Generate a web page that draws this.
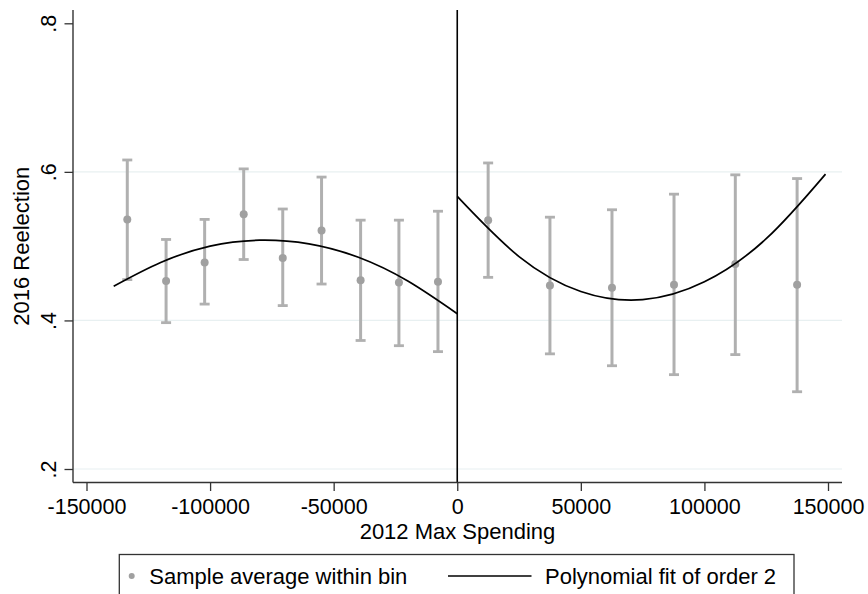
<!DOCTYPE html>
<html>
<head>
<meta charset="utf-8">
<script src="https://cdn.jsdelivr.net/npm/d3@7"></script>
<style>
  body { margin: 0; background: #fff; }
  text { font-family: "Liberation Sans", Arial, sans-serif; }
</style>
</head>
<body>
<div id="chart"></div>
<script>
const width = 868;
const height = 594;

//-------data-------//
const binX = [-133500, -117800, -102200, -86400, -70600, -54900, -39100, -23600, -7800,
  12500, 37500, 62600, 87700, 112500, 137500];
const binMean = [0.536, 0.453, 0.478, 0.543, 0.484, 0.521, 0.454, 0.451, 0.452,
  0.535, 0.447, 0.444, 0.448, 0.476, 0.448];
const binLow = [0.455, 0.397, 0.422, 0.482, 0.420, 0.449, 0.373, 0.366, 0.358,
  0.458, 0.355, 0.339, 0.327, 0.354, 0.304];
const binHigh = [0.616, 0.509, 0.536, 0.604, 0.550, 0.593, 0.535, 0.535, 0.547,
  0.612, 0.539, 0.549, 0.570, 0.596, 0.591];

const fitLeftX = [-139000, -120000, -100000, -80000, -60000, -40000, -20000, 0];
const fitLeftY = [0.446, 0.478, 0.500, 0.508, 0.503, 0.485, 0.453, 0.409];
const fitRightX = [0, 25000, 50000, 75000, 100000, 125000, 149000];
const fitRightY = [0.567, 0.486, 0.439, 0.428, 0.452, 0.510, 0.597];

const xTicks = [-150000, -100000, -50000, 0, 50000, 100000, 150000];
const yTicks = [0.2, 0.4, 0.6, 0.8];
const yGrid = [0.2, 0.4, 0.6];

const legendLabels = ["Sample average within bin", "Polynomial fit of order 2"];

//-------set up svg-------//
const svg = d3
  .select("#chart")
  .append("svg")
  .attr("width", width)
  .attr("height", height);

const plot = { x0: 73, x1: 842, y0: 10, y1: 482.5 };

const x = d3
  .scaleLinear()
  .domain([-150000, 150000])
  .range([plot.x0 + 13.5, plot.x1 - 14]);
const y = d3
  .scaleLinear()
  .domain([0.2, 0.8])
  .range([plot.y1 - 13.5, plot.y0 + 13.3]);

const axisColor = "#333";
const fontSize = 22;
const tickFont = 21.5;

//-----grid-----//
svg
  .append("g")
  .attr("class", "grid")
  .selectAll("line")
  .data(yGrid)
  .join("line")
  .attr("x1", plot.x0)
  .attr("x2", plot.x1)
  .attr("y1", (d) => y(d))
  .attr("y2", (d) => y(d))
  .attr("stroke", "#e8f0f1")
  .attr("stroke-width", 1.2);

//-----error bars-----//
const bins = binX.map((d, i) => ({
  x: d,
  mean: binMean[i],
  lo: binLow[i],
  hi: binHigh[i],
}));

const barColor = "#b0b0b0";
const bars = svg.append("g").attr("class", "bars");
bars
  .selectAll("line.stem")
  .data(bins)
  .join("line")
  .attr("class", "stem")
  .attr("x1", (d) => x(d.x))
  .attr("x2", (d) => x(d.x))
  .attr("y1", (d) => y(d.lo))
  .attr("y2", (d) => y(d.hi))
  .attr("stroke", barColor)
  .attr("stroke-width", 3);
["lo", "hi"].forEach((k) => {
  bars
    .selectAll("line.cap-" + k)
    .data(bins)
    .join("line")
    .attr("class", "cap-" + k)
    .attr("x1", (d) => x(d.x) - 5)
    .attr("x2", (d) => x(d.x) + 5)
    .attr("y1", (d) => y(d[k]))
    .attr("y2", (d) => y(d[k]))
    .attr("stroke", barColor)
    .attr("stroke-width", 2.8);
});

//-----dots-----//
svg
  .append("g")
  .attr("class", "dots")
  .selectAll("circle")
  .data(bins)
  .join("circle")
  .attr("cx", (d) => x(d.x))
  .attr("cy", (d) => y(d.mean))
  .attr("r", 4)
  .attr("fill", "#a0a0a0");

//-----fit lines-----//
const line = d3
  .line()
  .x((d) => x(d[0]))
  .y((d) => y(d[1]))
  .curve(d3.curveNatural);

[
  d3.zip(fitLeftX, fitLeftY),
  d3.zip(fitRightX, fitRightY),
].forEach((pts) => {
  svg
    .append("path")
    .attr("d", line(pts))
    .attr("fill", "none")
    .attr("stroke", "#000")
    .attr("stroke-width", 1.7);
});

//-----cutoff line-----//
svg
  .append("line")
  .attr("x1", x(0))
  .attr("x2", x(0))
  .attr("y1", plot.y0)
  .attr("y2", plot.y1)
  .attr("stroke", "#000")
  .attr("stroke-width", 1.6);

//-----axes-----//
const xAxis = svg
  .append("g")
  .attr("transform", `translate(0,${plot.y1})`)
  .call(
    d3
      .axisBottom(x)
      .tickValues(xTicks)
      .tickSize(8.5)
      .tickSizeOuter(0)
      .tickFormat((d) => String(d))
  );
xAxis.select(".domain").remove();
xAxis.selectAll(".tick line").attr("stroke", axisColor).attr("stroke-width", 1.3);
xAxis
  .selectAll(".tick text")
  .attr("y", 31.5)
  .attr("dy", 0)
  .attr("fill", "#000")
  .style("font-size", tickFont + "px")
  .style("font-family", '"Liberation Sans", Arial, sans-serif');

const yAxis = svg
  .append("g")
  .attr("transform", `translate(${plot.x0},0)`)
  .call(
    d3
      .axisLeft(y)
      .tickValues(yTicks)
      .tickSize(8.5)
      .tickSizeOuter(0)
      .tickFormat((d) => d3.format(".1f")(d).replace(/^0/, ""))
  );
yAxis.select(".domain").remove();
yAxis.selectAll(".tick line").attr("stroke", axisColor).attr("stroke-width", 1.3);
yAxis
  .selectAll(".tick text")
  .attr("x", 0)
  .attr("y", 0)
  .attr("dy", 0)
  .attr("text-anchor", "middle")
  .attr("transform", "translate(-17,0) rotate(-90)")
  .attr("fill", "#000")
  .style("font-size", tickFont + "px")
  .style("font-family", '"Liberation Sans", Arial, sans-serif');

// frame lines of the plot region
svg
  .append("line")
  .attr("x1", plot.x0)
  .attr("x2", plot.x1)
  .attr("y1", plot.y1)
  .attr("y2", plot.y1)
  .attr("stroke", axisColor)
  .attr("stroke-width", 1.4);
svg
  .append("line")
  .attr("x1", plot.x0)
  .attr("x2", plot.x0)
  .attr("y1", plot.y0)
  .attr("y2", plot.y1)
  .attr("stroke", axisColor)
  .attr("stroke-width", 1.4);

//-----axis titles-----//
svg
  .append("text")
  .attr("x", (plot.x0 + plot.x1) / 2)
  .attr("y", 538.5)
  .attr("text-anchor", "middle")
  .style("font-size", fontSize + "px")
  .text("2012 Max Spending");

svg
  .append("text")
  .attr("transform", `translate(29,${(plot.y0 + plot.y1) / 2}) rotate(-90)`)
  .attr("text-anchor", "middle")
  .style("font-size", fontSize + "px")
  .text("2016 Reelection");

//-----legend-----//
const legend = svg.append("g").attr("class", "legend");
legend
  .append("rect")
  .attr("x", 119.3)
  .attr("y", 554.5)
  .attr("width", 674.7)
  .attr("height", 80)
  .attr("fill", "#fff")
  .attr("stroke", axisColor)
  .attr("stroke-width", 1.3);
legend
  .append("circle")
  .attr("cx", 131.7)
  .attr("cy", 576)
  .attr("r", 3)
  .attr("fill", "#a0a0a0");
legend
  .append("text")
  .attr("x", 149.3)
  .attr("y", 583.5)
  .style("font-size", fontSize + "px")
  .text(legendLabels[0]);
legend
  .append("line")
  .attr("x1", 448)
  .attr("x2", 531.5)
  .attr("y1", 576)
  .attr("y2", 576)
  .attr("stroke", "#000")
  .attr("stroke-width", 1.5);
legend
  .append("text")
  .attr("x", 545)
  .attr("y", 583.5)
  .style("font-size", fontSize + "px")
  .text(legendLabels[1]);
</script>
</body>
</html>
